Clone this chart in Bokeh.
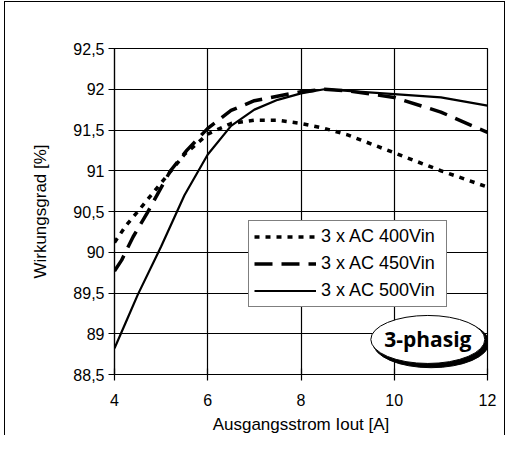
from bokeh.plotting import figure
from bokeh.models import FixedTicker, Legend, LegendItem
from bokeh.core.properties import value
from bokeh.embed import file_html
from bokeh.resources import INLINE

# Data
x400 = [4, 4.25, 4.5, 5, 5.5, 6, 6.5, 7, 7.5, 8, 8.5, 9, 10, 11, 12]
y400 = [90.12, 90.33, 90.5, 90.85, 91.2, 91.45, 91.58, 91.62, 91.62, 91.58, 91.52, 91.44, 91.22, 91.0, 90.8]

x450 = [4, 4.15, 4.4, 4.7, 5.2, 5.55, 6, 6.5, 7, 8, 8.5, 9, 10, 11, 12]
y450 = [89.77, 89.9, 90.19, 90.48, 91.0, 91.25, 91.52, 91.74, 91.86, 91.97, 92.0, 91.98, 91.9, 91.72, 91.47]

x500 = [4, 4.25, 4.5, 5, 5.5, 6, 6.5, 7, 7.5, 8, 8.5, 9, 10, 11, 12]
y500 = [88.82, 89.15, 89.48, 90.07, 90.7, 91.2, 91.55, 91.75, 91.87, 91.95, 92.0, 91.98, 91.94, 91.9, 91.8]

series_labels = ["3 x AC 400Vin", "3 x AC 450Vin", "3 x AC 500Vin"]
x_ticks = [4, 6, 8, 10, 12]
y_ticks = [88.5, 89, 89.5, 90, 90.5, 91, 91.5, 92, 92.5]
y_tick_labels = ["88,5", "89", "89,5", "90", "90,5", "91", "91,5", "92", "92,5"]

FONT = "Liberation Sans"

p = figure(width=501, height=434, x_range=(4, 12), y_range=(88.5, 92.5),
           output_backend="svg", toolbar_location=None,
           min_border_left=109, min_border_right=19, min_border_top=46, min_border_bottom=61)
p.styles = {"border-left": "1px solid black", "border-top": "1px solid black",
            "border-right": "1px solid black", "margin-left": "4px", "margin-top": "1px"}

p.outline_line_color = "black"
p.outline_line_width = 1.2
p.outline_line_alpha = 1

p.xaxis.ticker = FixedTicker(ticks=x_ticks)
p.yaxis.ticker = FixedTicker(ticks=y_ticks)
p.yaxis.major_label_overrides = {t: l for t, l in zip(y_ticks, y_tick_labels)}
for ax in (p.xaxis, p.yaxis):
    ax.axis_line_color = "black"
    ax.axis_line_width = 1.2
    ax.major_tick_line_color = "black"
    ax.major_tick_line_width = 1.2
    ax.major_tick_in = 6
    ax.major_tick_out = 6
    ax.minor_tick_line_color = None
    ax.major_label_text_font = FONT
    ax.major_label_text_font_size = "16px"
    ax.major_label_text_color = "black"
    ax.axis_label_text_font = FONT
    ax.axis_label_text_font_size = "17px"
    ax.axis_label_text_font_style = "normal"
    ax.axis_label_text_color = "black"
p.xaxis.axis_label = "Ausgangsstrom Iout [A]"
p.yaxis.axis_label = "Wirkungsgrad [%]"
p.xaxis.major_label_standoff = 13
p.xaxis.axis_label_standoff = 6
p.yaxis.major_label_standoff = 4
p.yaxis.axis_label_standoff = 20

p.xgrid.grid_line_color = "black"
p.ygrid.grid_line_color = "black"
p.xgrid.grid_line_width = 1.2
p.ygrid.grid_line_width = 1.2
p.xgrid.grid_line_alpha = 1
p.ygrid.grid_line_alpha = 1

r400 = p.line(x400, y400, line_color="black", line_width=3.5, line_dash="5 6")
r450 = p.line(x450, y450, line_color="black", line_width=3.5, line_dash="18 9")
r500 = p.line(x500, y500, line_color="black", line_width=2.2)

legend = Legend(items=[LegendItem(label=series_labels[0], renderers=[r400]),
                       LegendItem(label=series_labels[1], renderers=[r450]),
                       LegendItem(label=series_labels[2], renderers=[r500])],
                location=(134, 67), border_line_color="black", border_line_width=1.2,
                background_fill_color="white", background_fill_alpha=1,
                label_text_font=FONT, label_text_font_size="18px", label_text_color="black",
                glyph_width=62, glyph_height=19, label_standoff=5, spacing=6,
                padding=5, margin=0, label_height=19, label_width=120)
p.add_layout(legend, "center")

# "3-phasig" badge
bx, by = 10.72, 88.93
p.ellipse(x=[bx + 0.07], y=[by - 0.04], width=116, height=50, width_units="screen",
          height_units="screen", fill_color="black", line_color="black")
p.ellipse(x=[bx], y=[by], width=114, height=48, width_units="screen",
          height_units="screen", fill_color="white", line_color="black", line_width=1)
p.text(x=[bx], y=[by], text=["3-phasig"], text_align="center", text_baseline="middle",
       text_font=value("Open Sans"), text_font_style="bold", text_font_size="21px",
       text_color="black")

open("out.html", "w").write(file_html(p, INLINE))
